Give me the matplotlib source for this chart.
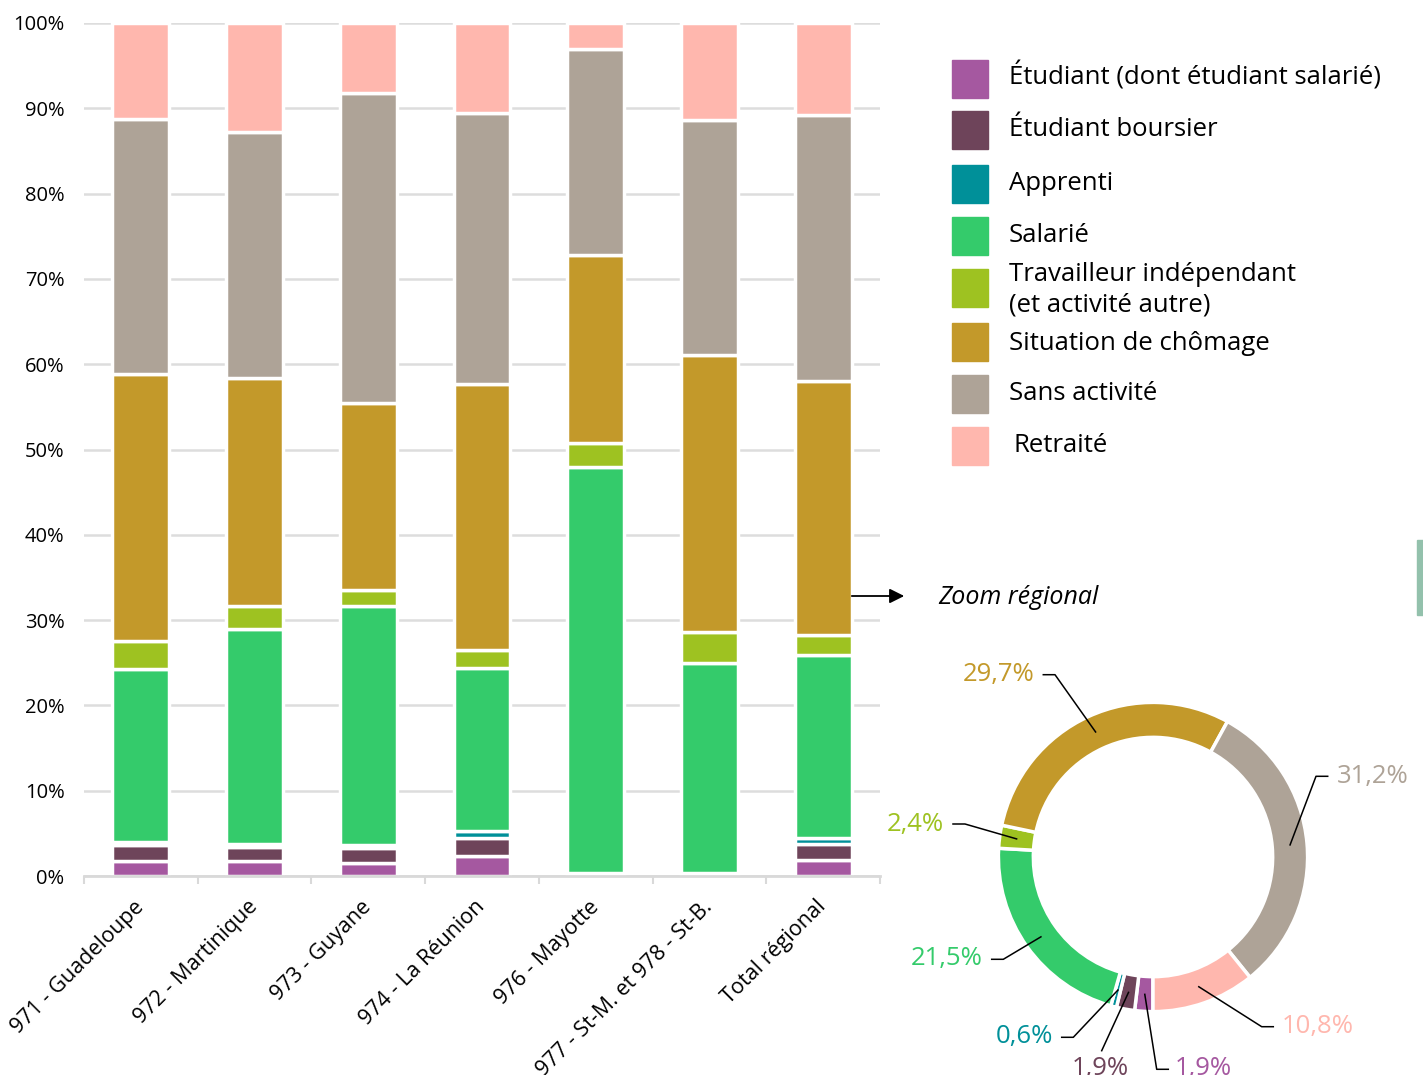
import numpy as np
import matplotlib
matplotlib.use("Agg")
import matplotlib.pyplot as plt
from matplotlib.patches import Rectangle

plt.rcParams['font.family'] = ['Open Sans', 'DejaVu Sans']

# données (en %)
categories = ['971 - Guadeloupe', '972 - Martinique', '973 - Guyane', '974 - La Réunion',
              '976 - Mayotte', '977 - St-M. et 978 - St-B.', 'Total régional']
etudiant = [1.8, 1.75, 1.5, 2.3, 0.4, 0.4, 1.9]
boursier = [1.85, 1.6, 1.75, 2.15, 0, 0, 1.9]
apprenti = [0.35, 0.4, 0.35, 0.85, 0, 0, 0.6]
salarie = [20.3, 25.25, 28.1, 19.1, 47.5, 24.6, 21.5]
travailleur = [3.3, 2.6, 1.8, 2.1, 2.9, 3.6, 2.4]
chomage = [31.2, 26.8, 22.0, 31.2, 22.0, 32.5, 29.7]
sans_activite = [30.0, 28.8, 36.3, 31.7, 24.1, 27.5, 31.2]
retraite = [11.2, 12.8, 8.2, 10.6, 3.1, 11.4, 10.8]

# zoom régional (donut)
donut_values = [1.9, 1.9, 0.6, 21.5, 2.4, 29.7, 31.2, 10.8]

labels = ['Étudiant (dont étudiant salarié)', 'Étudiant boursier', 'Apprenti', 'Salarié',
          'Travailleur indépendant\n(et activité autre)', 'Situation de chômage',
          'Sans activité', 'Retraité']
colors = ['#A558A0', '#6E445A', '#009099', '#34CB6B', '#9EC221', '#C3992A', '#AEA397', '#FFB7AE']

series = [etudiant, boursier, apprenti, salarie, travailleur, chomage, sans_activite, retraite]

W, H = 1423, 1075
fig = plt.figure(figsize=(W / 100, H / 100), dpi=100)

# ---- barres empilées ----
ax = fig.add_axes([84 / W, 1 - 876 / H, (880 - 84) / W, (876 - 23) / H])
x = np.arange(len(categories))
bottom = np.zeros(len(categories))
for vals, c in zip(series, colors):
    ax.bar(x, vals, bottom=bottom, width=0.5, color=c, edgecolor='white', linewidth=2.5)
    bottom += np.array(vals)

ax.set_xlim(-0.5, len(categories) - 0.5)
ax.set_ylim(0, 100)
ax.set_yticks(range(0, 101, 10))
ax.set_yticklabels([f"{v}%" for v in range(0, 101, 10)], fontsize=14.5)
ax.yaxis.grid(True, color='#DDDDDD', linewidth=1.8)
ax.set_axisbelow(True)
for s in ['top', 'right', 'left']:
    ax.spines[s].set_visible(False)
ax.spines['bottom'].set_color('#D9D9D9')
ax.spines['bottom'].set_linewidth(2)
ax.tick_params(axis='y', length=0, pad=14)
ax.set_xticks(x)
ax.set_xticklabels(categories, rotation=45, ha='right', va='center', rotation_mode='anchor', fontsize=15.5)
ax.tick_params(axis='x', which='major', length=0, pad=20)
ax.set_xticks(np.arange(-0.5, len(categories)), minor=True)
ax.tick_params(axis='x', which='minor', length=6, width=1.5, color='#D9D9D9')

# ---- donut ----
cx, cy, R = 1153, 857, 154.6
x0, x1, ytop, ybot = 860, 1423, 640, 1075
axd = fig.add_axes([x0 / W, 1 - ybot / H, (x1 - x0) / W, (ybot - ytop) / H])
axd.pie(donut_values, colors=colors, startangle=270, counterclock=False, radius=1,
        wedgeprops=dict(width=0.226, edgecolor='white', linewidth=2.5))
axd.set_xlim((x0 - cx) / R, (x1 - cx) / R)
axd.set_ylim((cy - ybot) / R, (cy - ytop) / R)
axd.set_aspect('auto')
axd.axis('off')

def px(p):
    return ((p[0] - cx) / R, (cy - p[1]) / R)

# coude et position du texte pour chaque étiquette (pixels)
label_layout = [
    ([(1156.7, 1069.3), (1168.3, 1069.3)], (1175, 1069), 'left'),
    ([(1101.7, 1050.7)], (1100, 1069), 'center'),
    ([(1073.3, 1037.3), (1061.7, 1037.3)], (1053, 1037), 'right'),
    ([(1003.3, 959.3), (991.7, 959.3)], (983, 959), 'right'),
    ([(965, 824), (953, 824)], (944, 824), 'right'),
    ([(1055, 674.7), (1043.3, 674.7)], (1035, 674), 'right'),
    ([(1316, 776.3), (1327.7, 776.3)], (1336.7, 776), 'left'),
    ([(1261.7, 1026.7), (1273.3, 1026.7)], (1281.7, 1027), 'left'),
]
cum = 0
for v, c, (elbow, tpos, ha) in zip(donut_values, colors, label_layout):
    mid = np.deg2rad(270 - (cum + v / 2) * 3.6)
    cum += v
    pts = [(0.89 * np.cos(mid), 0.89 * np.sin(mid))] + [px(p) for p in elbow]
    axd.plot([p[0] for p in pts], [p[1] for p in pts], color='black', lw=1.1, clip_on=False)
    tx, ty = px(tpos)
    axd.text(tx, ty, f"{v:.1f}%".replace('.', ','), color=c, fontsize=18.5, ha=ha, va='center',
             clip_on=False)

# ---- légende, flèche ----
ov = fig.add_axes([0, 0, 1, 1], facecolor='none')
ov.set_xlim(0, W)
ov.set_ylim(H, 0)
ov.axis('off')
rows = [78.5, 130, 184, 235.5, 288, 341.7, 394, 445.5]
text_y = [76, 130, 184, 236, 290, 344, 394, 446]
for i, (lab, c, yc, ty) in enumerate(zip(labels, colors, rows, text_y)):
    ov.add_patch(Rectangle((952, yc - 19), 36, 38, color=c))
    ov.text(1013 if i == 7 else 1009, ty, lab, fontsize=18.5, va='center', ha='left',
            linespacing=1.3)

ov.annotate('', xy=(907, 596), xytext=(849, 596),
            arrowprops=dict(arrowstyle='-|>', color='black', lw=1.3, mutation_scale=22))
ov.text(938, 597, 'Zoom régional', fontsize=18, style='italic', va='center', ha='left')
ov.add_patch(Rectangle((1417, 540), 6, 75, color='#93C1AC'))

fig.savefig('out.png', dpi=100)
